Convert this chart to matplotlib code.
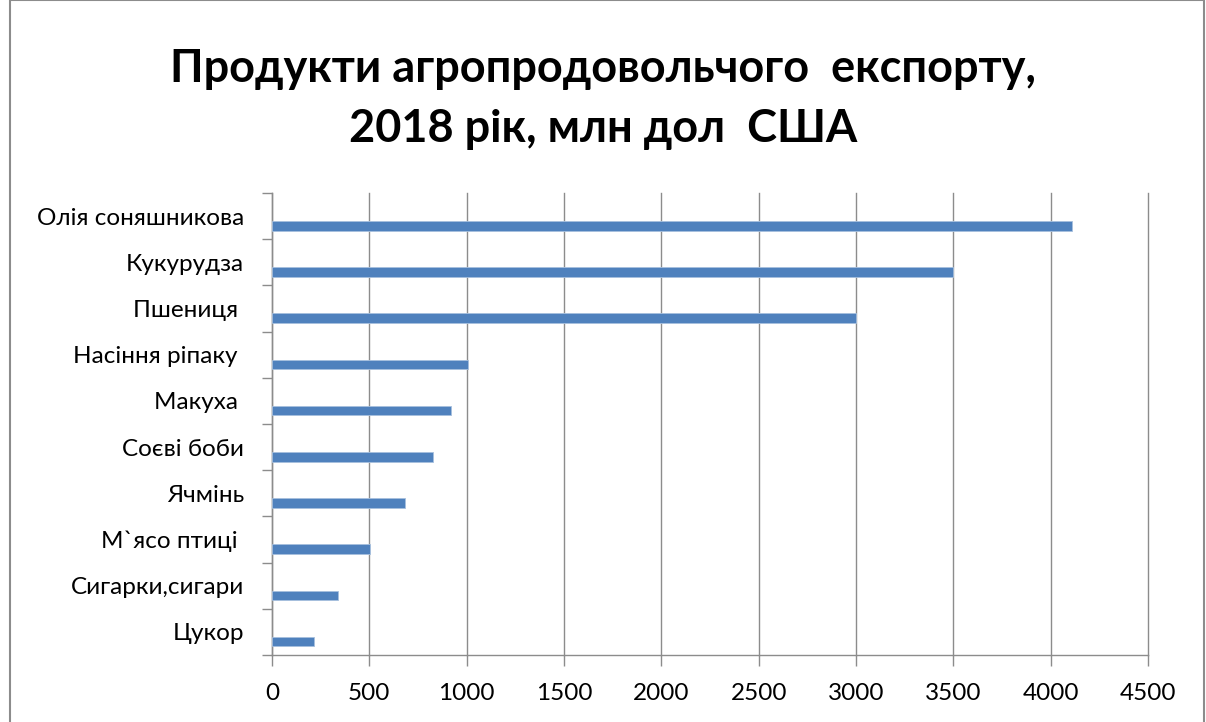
import matplotlib.pyplot as plt
import numpy as np
from matplotlib.patches import Rectangle

plt.rcParams['font.family'] = ['Lato', 'DejaVu Sans']

# data, top to bottom as in the chart
products = ['Олія соняшникова', 'Кукурудза', 'Пшениця ', 'Насіння ріпаку ',
            'Макуха ', 'Соєві боби', 'Ячмінь', 'М`ясо птиці ',
            'Сигарки,сигари', 'Цукор']
values = [4110, 3500, 3000, 1008, 919, 828, 684, 502, 340, 216]
xticks = [0, 500, 1000, 1500, 2000, 2500, 3000, 3500, 4000, 4500]

bar_color = '#4F81BD'
grid_color = '#8C8C8C'

fig = plt.figure(figsize=(12.06, 7.22), dpi=100)
fig.patches.append(Rectangle((0.008, -0.05), 0.99, 1.05, transform=fig.transFigure,
                             fill=False, edgecolor='#8C8C8C', linewidth=1.5))

ax = fig.add_axes([0.2255, 0.0928, 0.7265, 0.6399])

pos = np.arange(len(products))
# bars sit in the lower half of each category band (excel style)
ax.barh(pos + 0.21, values, height=0.21, color=bar_color, edgecolor='#A7C0DE',
        linewidth=0.6, zorder=3)

ax.set_xlim(0, 4500)
ax.set_ylim(len(products) - 0.5, -0.5)

ax.set_xticks(xticks)
ax.set_xticklabels([str(t) for t in xticks], fontsize=17.5)
ax.tick_params(axis='x', length=8, width=1, color=grid_color, pad=12)

ax.set_yticks(pos)
ax.set_yticklabels(products, fontsize=17.5)
ax.tick_params(axis='y', which='major', length=0, pad=20)
ax.set_yticks(np.arange(len(products) + 1) - 0.5, minor=True)
ax.tick_params(axis='y', which='minor', length=7, width=1, color=grid_color)

ax.grid(axis='x', color=grid_color, linewidth=1, zorder=0)
for gl in ax.get_xgridlines():
    gl.set_clip_on(False)
for s in ['top', 'right']:
    ax.spines[s].set_visible(False)
for s in ['left', 'bottom']:
    ax.spines[s].set_color(grid_color)
    ax.spines[s].set_linewidth(1)

fig.text(0.5, 0.905, 'Продукти агропродовольчого  експорту,', ha='center',
         va='center', fontsize=32.5, fontweight='bold')
fig.text(0.5, 0.822, '2018 рік, млн дол  США', ha='center', va='center',
         fontsize=32.5, fontweight='bold')

plt.savefig('out.png', dpi=100)
